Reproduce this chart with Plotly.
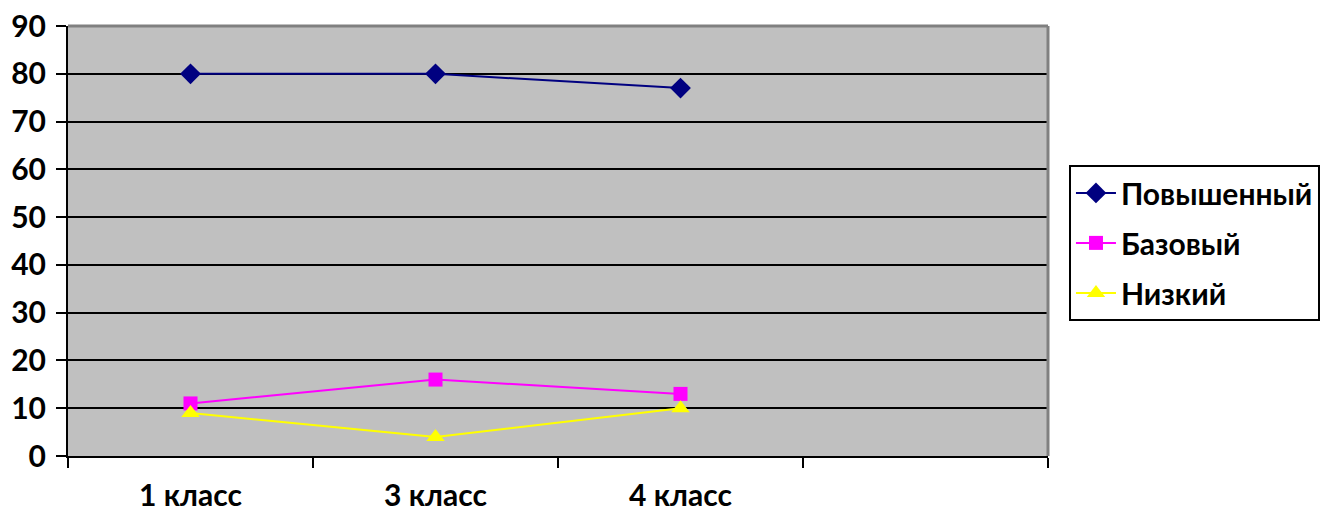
import plotly.graph_objects as go

categories = ["1 класс", "3 класс", "4 класс", " "]
series_names = ["Повышенный", "Базовый", "Низкий"]
povyshenny = [80, 80, 77]
bazovy = [11, 16, 13]
nizky = [9, 4, 10]
y_ticks = [0, 10, 20, 30, 40, 50, 60, 70, 80, 90]

FONT = "Lato"
FS = 30

fig = go.Figure()
styles = [
    (povyshenny, "#000080", "diamond", 16),
    (bazovy, "#FF00FF", "square", 14),
    (nizky, "#FFFF00", "triangle-up", 16),
]
for i, (name, (vals, color, sym, size)) in enumerate(zip(series_names, styles)):
    fig.add_trace(go.Scatter(
        x=categories[:len(vals)], y=vals, name=name, mode="lines+markers",
        legendgroup="g%d" % i,
        line=dict(color=color, width=2),
        marker=dict(symbol=sym, size=size, color=color),
    ))

tickfont = dict(family=FONT, size=FS, color="black", weight="bold")
fig.update_layout(
    width=1337, height=517,
    margin=dict(l=68, r=289, t=26, b=61),
    paper_bgcolor="white", plot_bgcolor="#C0C0C0",
    font=dict(family=FONT, size=FS, color="black"),
    showlegend=True,
    legend=dict(
        x=1.0214, y=0.677, xanchor="left", yanchor="top",
        bordercolor="black", borderwidth=2, bgcolor="white",
        font=tickfont, itemwidth=40, tracegroupgap=8,
    ),
)
fig.update_xaxes(
    type="category", categoryorder="array", categoryarray=categories,
    range=[-0.5, 3.5], tickson="boundaries", ticks="outside", ticklen=10,
    tickwidth=2, tickcolor="black", showline=True, linecolor="black", linewidth=2,
    showgrid=False, ticklabelstandoff=12, automargin=False,
    tickfont=tickfont,
)
fig.update_yaxes(
    range=[0, 90], tickvals=y_ticks, ticks="outside", ticklen=10, tickwidth=2,
    tickcolor="black", showline=True, linecolor="black", linewidth=2,
    showgrid=True, gridcolor="black", gridwidth=2, zeroline=False,
    tickfont=tickfont, ticklabelstandoff=4, automargin=False,
)
fig.add_shape(type="line", xref="paper", yref="paper", x0=0, x1=1, y0=1, y1=1,
              line=dict(color="#808080", width=3), layer="above")
fig.add_shape(type="line", xref="paper", yref="paper", x0=1, x1=1, y0=0, y1=1,
              line=dict(color="#808080", width=3), layer="above")

fig.write_html("out.html", config={"displayModeBar": False},
               post_script="document.body.style.margin='0';document.body.style.overflow='hidden';")
